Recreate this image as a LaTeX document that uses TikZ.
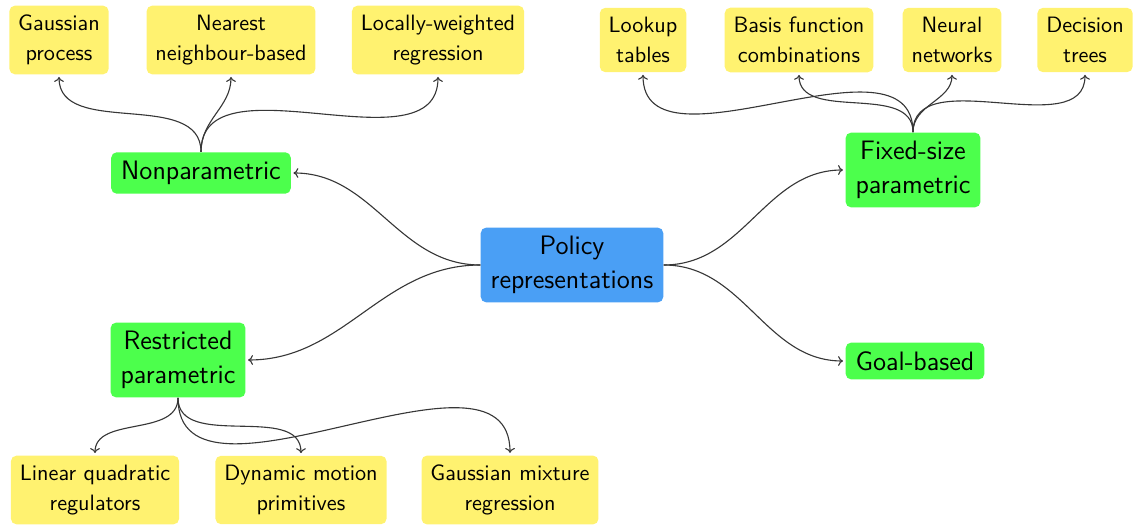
\documentclass[tikz,border=0pt]{standalone}
\usetikzlibrary{arrows.meta}
\definecolor{leafyellow}{RGB}{255,242,112}
\definecolor{midgreen}{RGB}{76,255,76}
\definecolor{rootblue}{RGB}{74,159,245}
\definecolor{edgegray}{RGB}{55,55,55}
\begin{document}
\begin{tikzpicture}[x=0.45pt,y=-0.45pt,
  base/.style={rounded corners=2.5pt, align=center, text=black, font=\sffamily},
  leaf/.style={base, fill=leafyellow, inner xsep=4pt, inner ysep=4.2pt, font=\sffamily\fontsize{10}{13.5}\selectfont},
  mid/.style={base, fill=midgreen, inner xsep=4.5pt, inner ysep=4pt, font=\sffamily\fontsize{12}{15}\selectfont},
  root/.style={base, fill=rootblue, inner xsep=4.5pt, inner ysep=4pt, font=\sffamily\fontsize{12}{15}\selectfont},
  conn/.style={draw=edgegray, line width=0.5pt, -{To[length=2.2pt,width=4.4pt]}, shorten >=1pt}
]
\useasboundingbox (0,0) rectangle (1139,526);
% root
\node[root] (pol) at (572,265) {Policy\\representations};
% second level
\node[mid] (np) at (201,173) {Nonparametric};
\node[mid] (rp) at (178,360) {Restricted\\parametric};
\node[mid] (fs) at (913,170) {Fixed-size\\parametric};
\node[mid] (gb) at (915,361) {Goal-based};
% leaves top left
\node[leaf] (gp) at (59,40) {Gaussian\\process};
\node[leaf] (nn) at (231,40) {Nearest\\neighbour-based};
\node[leaf] (lw) at (438,40) {Locally-weighted\\regression};
% leaves top right
\node[leaf] (lt) at (643,40) {Lookup\\tables};
\node[leaf] (bf) at (799,40) {Basis function\\combinations};
\node[leaf] (nw) at (952,40) {Neural\\networks};
\node[leaf] (dt) at (1085,40) {Decision\\trees};
% leaves bottom
\node[leaf] (lq) at (95,490) {Linear quadratic\\regulators};
\node[leaf] (dm) at (301,490) {Dynamic motion\\primitives};
\node[leaf] (gm) at (510,490) {Gaussian mixture\\regression};
% connectors
\draw[conn] (pol.west) to[out=180,in=0] (np.east);
\draw[conn] (pol.west) to[out=180,in=0] (rp.east);
\draw[conn] (pol.east) to[out=0,in=180] (fs.west);
\draw[conn] (pol.east) to[out=0,in=180] (gb.west);
\draw[conn] (np.north) to[out=90,in=-90] (gp.south);
\draw[conn] (np.north) to[out=90,in=-90] (nn.south);
\draw[conn] (np.north) to[out=90,in=-90] (lw.south);
\draw[conn] (fs.north) to[out=90,in=-90] (lt.south);
\draw[conn] (fs.north) to[out=90,in=-90] (bf.south);
\draw[conn] (fs.north) to[out=90,in=-90] (nw.south);
\draw[conn] (fs.north) to[out=90,in=-90] (dt.south);
\draw[conn] (rp.south) to[out=-90,in=90] (lq.north);
\draw[conn] (rp.south) to[out=-90,in=90] (dm.north);
\draw[conn] (rp.south) to[out=-90,in=90] (gm.north);
\end{tikzpicture}
\end{document}
